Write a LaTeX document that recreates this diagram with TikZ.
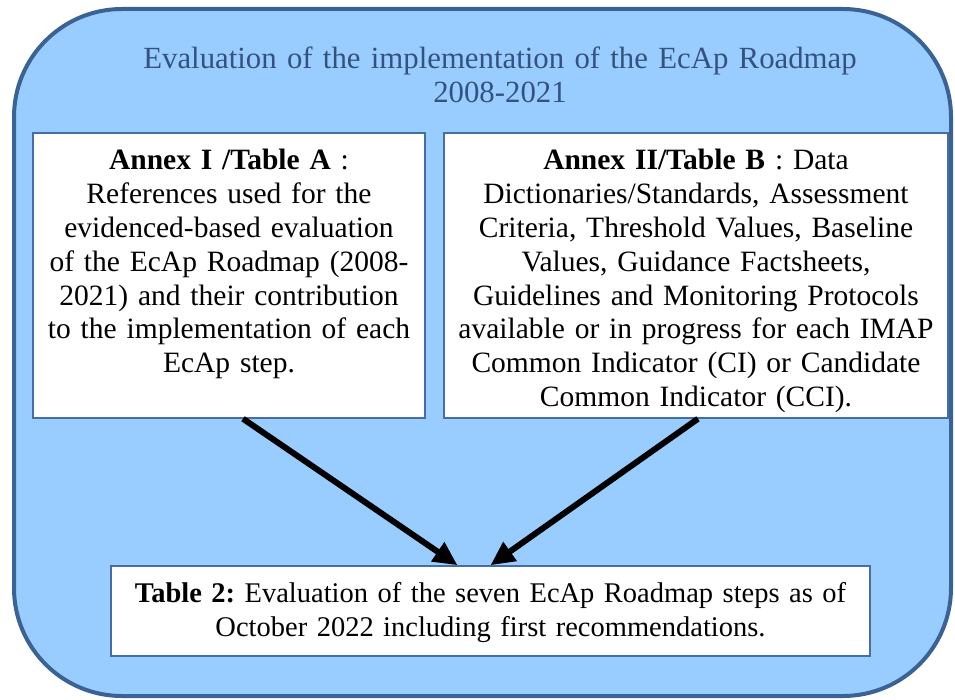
\documentclass[tikz,border=0pt]{standalone}
\usepackage{fontspec}
\setmainfont{Liberation Serif}
\usetikzlibrary{arrows.meta}
\definecolor{panelblue}{RGB}{153,204,255}
\definecolor{frameedge}{RGB}{58,98,148}
\definecolor{cardedge}{RGB}{70,110,165}
\definecolor{titleblue}{RGB}{52,82,128}
\frenchspacing
\begin{document}
\begin{tikzpicture}[x=1pt,y=-1pt,every node/.style={font=\fontsize{29.5}{33.8}\selectfont,align=center},
  frame/.style={draw=frameedge,line width=4pt,fill=panelblue,rounded corners=108pt,minimum width=937pt,minimum height=687pt,inner sep=0pt},
  card/.style={draw=cardedge,line width=1.5pt,fill=white,inner xsep=10pt,inner ysep=0pt,anchor=base},
  flow/.style={line width=6pt,-{Triangle[length=24pt,width=22pt]}}
  ]
    \useasboundingbox (0,0) rectangle (955,700);
    \node[frame] (frame) at (482.5,352.5) {};
    \node[text=titleblue,text width=800pt,anchor=base,font=\fontsize{30.8}{34}\selectfont] (title) at (500,69)
        {Evaluation of the implementation of the EcAp Roadmap\\2008-2021};

    \node[card,text width=372pt,text height=37pt,text depth=248pt] (annexa) at (229,170)
        {\textbf{Annex I /Table A} :\\References used for the\\evidenced-based evaluation\\of the EcAp Roadmap (2008-\\2021) and their contribution\\to the implementation of each\\EcAp step.};
    \node[card,text width=484pt,text height=37pt,text depth=248pt] (annexb) at (696,170)
        {\textbf{Annex II/Table B} : Data\\Dictionaries/Standards, Assessment\\Criteria, Threshold Values, Baseline\\Values, Guidance Factsheets,\\Guidelines and Monitoring Protocols\\available or in progress for each IMAP\\Common Indicator (CI) or Candidate\\Common Indicator (CCI).};
    \node[card,text width=739pt,text height=36pt,text depth=54pt,font=\fontsize{28.5}{34}\selectfont] (tabtwo) at (490.5,602)
        {\textbf{Table 2:} Evaluation of the seven EcAp Roadmap steps as of\\October 2022 including first recommendations.};

    \draw[flow] ([xshift=14pt]annexa.south) -- ([xshift=-33pt]tabtwo.north);
    \draw[flow] ([xshift=2pt]annexb.south) -- (tabtwo.north);
\end{tikzpicture}
\end{document}
